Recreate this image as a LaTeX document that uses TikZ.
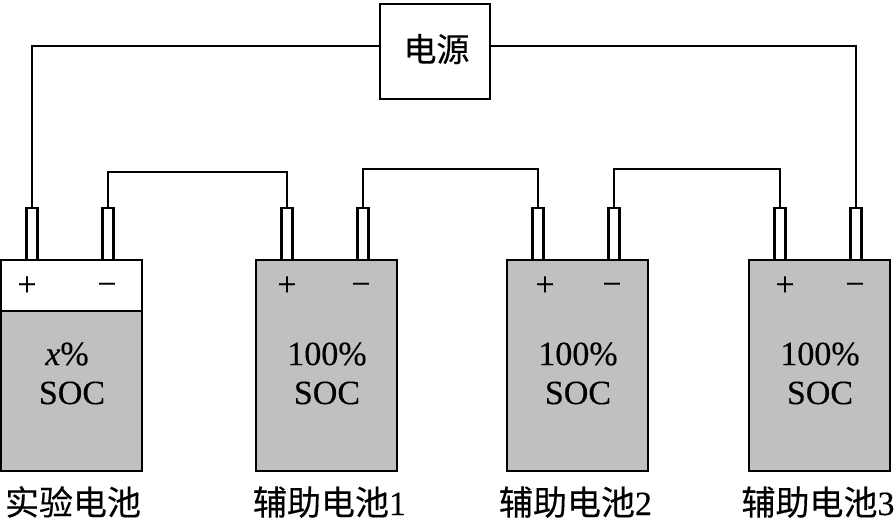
\documentclass[tikz,border=0pt]{standalone}
\usepackage{fontspec}
\setmainfont[FakeBold=0.25]{Liberation Serif}
\newfontfamily\cjk[FakeBold=0.25]{Noto Sans CJK SC}
\definecolor{cellgray}{RGB}{192,192,192}
\tikzset{
 x=1pt,y=-1pt,
 lw/.style={line width=2.1pt},
 cell/.style={draw,lw,fill=cellgray,minimum width=141pt,minimum height=211pt,inner sep=0pt,outer sep=0pt,anchor=north west},
 capbox/.style={draw,lw,fill=white,minimum width=141pt,minimum height=51pt,inner sep=0pt,outer sep=0pt,anchor=north west},
 post/.style={draw,lw,fill=white,minimum width=11pt,minimum height=52pt,inner sep=0pt,outer sep=0pt,anchor=south},
 src/.style={draw,lw,fill=white,minimum width=110pt,minimum height=95pt,inner sep=0pt,outer sep=0pt,anchor=north west},
 srctext/.style={inner sep=0pt,font=\cjk\fontsize{33}{33}\selectfont},
 soc/.style={inner sep=0pt,font=\fontsize{34}{34}\selectfont},
 sign/.style={inner sep=0pt,font=\fontsize{34}{34}\selectfont},
 caption/.style={inner sep=0pt,anchor=base,text depth=2pt,font=\fontsize{34}{34}\selectfont},
 wire/.style={lw,line join=miter},
}
\begin{document}
\begin{tikzpicture}
\useasboundingbox (0,0) rectangle (894,519);
% power source
\node[src] (source) at (380,4) {};
\node[srctext] (sourcelabel) at (436.5,49) {电源};
% cells
\node[cell] (c0) at (1,260) {};
\node[capbox] (cap0) at (1,260) {};
\node[cell] (c1) at (256,260) {};
\node[cell] (c2) at (507,260) {};
\node[cell] (c3) at (749,260) {};
% terminals
\node[post] (p0) at (32,260) {};
\node[post] (n0) at (108,260) {};
\node[post] (p1) at (287,260) {};
\node[post] (n1) at (363,260) {};
\node[post] (p2) at (538,260) {};
\node[post] (n2) at (614,260) {};
\node[post] (p3) at (780,260) {};
\node[post] (n3) at (856,260) {};
% wires
\coordinate (wl) at (32,46);
\coordinate (wr) at (856,46);
\draw[wire] (source.west |- wl) -- (wl) -- (p0.north);
\draw[wire] (source.east |- wr) -- (wr) -- (n3.north);
\coordinate (j0a) at (108,172);
\coordinate (j0b) at (287,172);
\coordinate (j1a) at (363,169);
\coordinate (j1b) at (538,169);
\coordinate (j2a) at (614,169);
\coordinate (j2b) at (780,169);
\draw[wire] (n0.north) -- (j0a) -- (j0b) -- (p1.north);
\draw[wire] (n1.north) -- (j1a) -- (j1b) -- (p2.north);
\draw[wire] (n2.north) -- (j2a) -- (j2b) -- (p3.north);
% signs
\node[sign] (s0p) at (27,286) {+};
\node[sign] (s0n) at (107,289) {−};
\node[sign] (s1p) at (287,286) {+};
\node[sign] (s1n) at (361,289) {−};
\node[sign] (s2p) at (545,286) {+};
\node[sign] (s2n) at (612,289) {−};
\node[sign] (s3p) at (785,286) {+};
\node[sign] (s3n) at (855,289) {−};
% state of charge
\node[soc] (t0) at (67,354) {\textit{x}\%};
\node[soc] (u0) at (72,393) {SOC};
\node[soc] (t1) at (327,354) {100\%};
\node[soc] (u1) at (327,393) {SOC};
\node[soc] (t2) at (578,354) {100\%};
\node[soc] (u2) at (578,393) {SOC};
\node[soc] (t3) at (820,354) {100\%};
\node[soc] (u3) at (820,393) {SOC};
% captions
\node[caption] (l0) at (73,515) {\cjk 实验电池};
\node[caption] (l1) at (329.5,515) {\cjk 辅助电池\rmfamily 1};
\node[caption] (l2) at (575.5,515) {\cjk 辅助电池\rmfamily 2};
\node[caption] (l3) at (818,515) {\cjk 辅助电池\rmfamily 3};
\end{tikzpicture}
\end{document}
